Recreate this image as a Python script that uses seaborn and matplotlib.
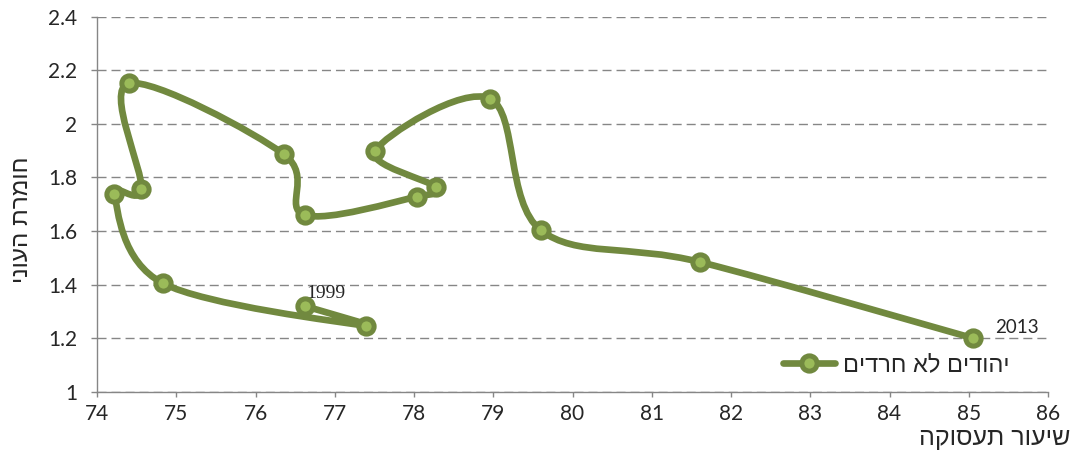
import numpy as np
import pandas as pd
import seaborn as sns
import matplotlib.pyplot as plt
from matplotlib.path import Path
from matplotlib.patches import PathPatch
from matplotlib.lines import Line2D
from matplotlib.ticker import FuncFormatter

sns.set_style("white")
plt.rcParams['font.family'] = ['Lato', 'DejaVu Sans']

# data (employment rate vs poverty severity), 1999-2013
years = list(range(1999, 2014))
employment = [76.62, 77.39, 74.83, 74.22, 74.56, 74.40, 76.36, 76.62,
              78.04, 78.28, 77.51, 78.96, 79.60, 81.61, 85.05]
poverty = [1.320, 1.246, 1.405, 1.737, 1.756, 2.151, 1.886, 1.660,
           1.728, 1.763, 1.900, 2.094, 1.603, 1.484, 1.200]

series_name = "יהודים לא חרדים"
x_title = "שיעור תעסוקה"
y_title = "חומרת העוני"

df = pd.DataFrame({"year": years, "employment": employment, "poverty": poverty})

line_col = "#71893F"
face_col = "#9BBB59"
grid_col = "#868686"
heb = ['Liberation Sans', 'DejaVu Sans']


def rtl(s):
    # matplotlib has no bidi support, pure hebrew text is just reversed
    return s[::-1]


def smooth_path(x, y):
    # excel style smoothed line: cubic bezier through the points
    pts = np.column_stack([x, y])
    padded = np.vstack([pts[0], pts, pts[-1]])
    verts = [pts[0]]
    codes = [Path.MOVETO]
    for i in range(1, len(padded) - 2):
        p0, p1, p2, p3 = padded[i - 1:i + 3]
        verts += [p1 + (p2 - p0) / 6, p2 - (p3 - p1) / 6, p2]
        codes += [Path.CURVE4] * 3
    return Path(verts, codes)


fig = plt.figure(figsize=(10.81, 4.54), dpi=100)
ax = fig.add_axes([97 / 1081, 1 - 391.7 / 454, (1048 - 97) / 1081, (391.7 - 16.7) / 454])

ax.add_patch(PathPatch(smooth_path(df["employment"], df["poverty"]), fill=False,
                       edgecolor=line_col, lw=4.8, capstyle='round', joinstyle='round', zorder=3))
sns.scatterplot(ax=ax, data=df, x="employment", y="poverty", s=121, color=face_col,
                edgecolor=line_col, linewidth=3.6, zorder=4, legend=False)

ax.set_xlim(74, 86)
ax.set_ylim(1, 2.4)
ax.set_xticks(range(74, 87))
ax.set_yticks(np.arange(1, 2.41, 0.2))
ax.yaxis.set_major_formatter(FuncFormatter(lambda v, p: f"{v:g}"))

ax.yaxis.grid(True, color=grid_col, lw=1.0, linestyle=(0, (6.5, 3.6)))
ax.xaxis.grid(False)
for side in ["top", "right"]:
    ax.spines[side].set_visible(False)
for side in ["left", "bottom"]:
    ax.spines[side].set_color(grid_col)
    ax.spines[side].set_linewidth(1.0)
ax.tick_params(axis='x', direction='out', length=3.6, width=1.0, color=grid_col,
               labelsize=15, pad=5, bottom=True)
ax.tick_params(axis='y', direction='out', length=4.3, width=1.0, color=grid_col,
               labelsize=15, pad=10, left=True)
ax.set_xlabel("")
ax.set_ylabel("")

fig.text(22 / 1081, 1 - 220 / 454, rtl(y_title), rotation=90, ha='center', va='center',
         fontsize=17.5, family=heb)
fig.text(1070 / 1081, 1 - 438 / 454, rtl(x_title), ha='right', va='center',
         fontsize=18, family=heb)

ax.annotate(str(years[0]), (employment[0], poverty[0]), xytext=(15, 9),
            textcoords='offset points', ha='center', va='center',
            fontsize=14, family=['Liberation Serif', 'DejaVu Serif'])
ax.annotate(str(years[-1]), (employment[-1], poverty[-1]), xytext=(32, 8),
            textcoords='offset points', ha='center', va='center', fontsize=13.5)

handle = Line2D([], [], color=line_col, lw=4.8, marker='o', markersize=11,
                markerfacecolor=face_col, markeredgecolor=line_col, markeredgewidth=3.6)
leg = ax.legend([handle], [rtl(series_name)], loc='center left',
                bbox_to_anchor=(762 / 1081, 1 - 365 / 454), bbox_transform=fig.transFigure,
                frameon=False, handlelength=2.2, handletextpad=0.35,
                prop={'family': heb, 'size': 17})

fig.savefig("out.png", dpi=100)
